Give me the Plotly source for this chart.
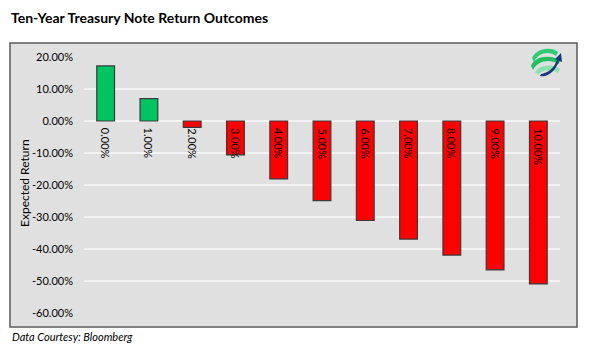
import re
import plotly.graph_objects as go

categories = ["0.00%", "1.00%", "2.00%", "3.00%", "4.00%", "5.00%",
              "6.00%", "7.00%", "8.00%", "9.00%", "10.00%"]
returns = [17.2, 7.0, -2.0, -10.6, -18.1, -24.9, -31.1, -36.9, -41.9, -46.5, -50.9]
tick_vals = [20, 10, 0, -10, -20, -30, -40, -50, -60]
tick_text = ["20.00%", "10.00%", "0.00%", "-10.00%", "-20.00%", "-30.00%",
             "-40.00%", "-50.00%", "-60.00%"]

GREEN = "#00c462"
RED = "#ff0000"
colors = [GREEN if v >= 0 else RED for v in returns]

W, H = 590, 350
L, R, T, B = 84, 30, 57, 37
pw, ph = W - L - R, H - T - B

def px(x):
    return (x - L) / pw

def py(y):
    return (H - B - y) / ph

FONT = "Lato"

fig = go.Figure()
fig.add_trace(go.Bar(
    x=categories, y=returns, marker=dict(color=colors, line=dict(color="#3a3a3a", width=1.2)),
    width=0.41, showlegend=False, hoverinfo="skip"))

annotations = []
for c in categories:
    annotations.append(dict(x=c, y=0, xref="x", yref="y", text=c, textangle=90,
                            showarrow=False, xanchor="center", yanchor="top", yshift=-5,
                            font=dict(family=FONT, size=11, color="#000000")))

shapes = [
    dict(type="rect", xref="paper", yref="paper", x0=px(10), x1=px(577), y0=py(327), y1=py(43),
         fillcolor="#e0e0e0", line=dict(color="#5a5a5a", width=1.5), layer="below"),
    dict(type="line", xref="paper", yref="y", x0=0, x1=1, y0=0, y1=0,
         line=dict(color="#595959", width=1.3), layer="below"),
]

# logo approximation (screen-style coords, y down; flipped below)
cx, cy = 546, 62
logo = [
    ("M -14 -4 C -10 -14 6 -16 12 -10 L 10 -6 C 4 -11 -8 -10 -12 0 Z", "#2ecc71"),
    ("M -15 4 C -12 -6 4 -8 14 -2 L 13 2 C 4 -3 -8 -2 -13 8 Z", "#1fbf5f"),
    ("M -11 10 C -6 2 8 2 14 7 L 12 11 C 6 7 -4 7 -8 13 Z", "#8fe0b0"),
    ("M -6 14 C 2 16 10 8 13 -1 L 16 0 L 15 -9 L 9 -3 L 11 -2 C 8 6 2 11 -5 12 Z", "#1b3a7a"),
]

def flip(path):
    res = []
    idx = 0
    for t in path.split():
        if re.match(r"^[A-Za-z]$", t):
            res.append(t)
            idx = 0
        else:
            v = float(t)
            if idx % 2 == 1:
                v = -v
            res.append(str(v))
            idx += 1
    return " ".join(res)

for path, col in logo:
    shapes.append(dict(type="path", xref="paper", yref="paper", xsizemode="pixel", ysizemode="pixel",
                       xanchor=px(cx), yanchor=py(cy), path=flip(path),
                       fillcolor=col, line=dict(width=0), layer="above"))

annotations += [
    dict(text="<b>Ten-Year Treasury Note Return Outcomes</b>", xref="paper", yref="paper",
         x=px(9), y=py(17), xanchor="left", yanchor="middle", showarrow=False,
         font=dict(family=FONT, size=14, color="#000000")),
    dict(text="<i>Data Courtesy: Bloomberg</i>", xref="paper", yref="paper",
         x=px(10), y=py(336), xanchor="left", yanchor="middle", showarrow=False,
         font=dict(family=FONT, size=11, color="#000000")),
    dict(text="Expected Return", xref="paper", yref="paper", textangle=-90,
         x=px(24), y=py(183), xanchor="center", yanchor="middle", showarrow=False,
         font=dict(family=FONT, size=12, color="#000000")),
]

fig.update_layout(
    width=W, height=H, margin=dict(l=L, r=R, t=T, b=B),
    paper_bgcolor="white", plot_bgcolor="rgba(0,0,0,0)",
    font=dict(family=FONT, size=11, color="#000000"),
    shapes=shapes,
    annotations=annotations,
    xaxis=dict(showticklabels=False, showgrid=False, zeroline=False, showline=False,
               ticks="", range=[-0.5, 10.5], fixedrange=True),
    yaxis=dict(range=[-60, 20], tickvals=tick_vals, ticktext=tick_text,
               showgrid=True, gridcolor="#f4f4f4", gridwidth=1.5, zeroline=False,
               showline=False, ticks="", tickfont=dict(family=FONT, size=11),
               ticklabelstandoff=10, fixedrange=True),
)

fig.write_html("out.html")
